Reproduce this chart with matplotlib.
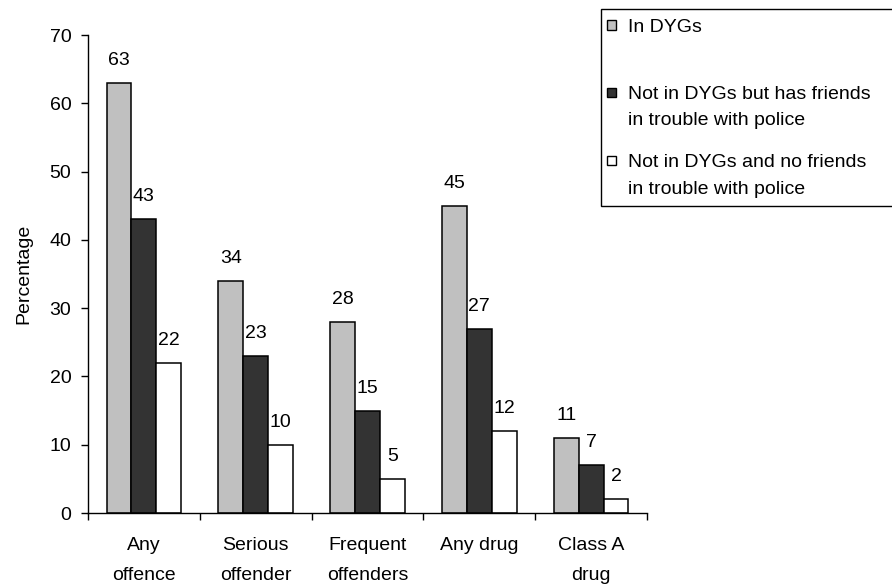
import numpy as np
import matplotlib.pyplot as plt
from matplotlib.patches import Rectangle

plt.rcParams['font.family'] = ['Liberation Sans', 'DejaVu Sans']
plt.rcParams['font.size'] = 14

categories = ['Any\noffence', 'Serious\noffender', 'Frequent\noffenders', 'Any drug', 'Class A\ndrug']
in_dygs = [63, 34, 28, 45, 11]
friends_in_trouble = [43, 23, 15, 27, 7]
no_friends = [22, 10, 5, 12, 2]

series_labels = ['In DYGs',
                 'Not in DYGs but has friends\nin trouble with police',
                 'Not in DYGs and no friends\nin trouble with police']
colors = ['#c0c0c0', '#333333', '#ffffff']

W, H = 892, 584
fig = plt.figure(figsize=(W / 100, H / 100), dpi=100)
ax = fig.add_axes([88 / W, 1 - 513 / H, (647 - 88) / W, (513 - 35) / H])

x = np.arange(len(categories))
w = 0.223
for i, (vals, c) in enumerate(zip([in_dygs, friends_in_trouble, no_friends], colors)):
    bars = ax.bar(x + (i - 1) * w, vals, w, color=c, edgecolor='black', linewidth=1.1)
    for b, v in zip(bars, vals):
        ax.annotate(str(v), (b.get_x() + b.get_width() / 2, v), xytext=(0, 13),
                    textcoords='offset points', ha='center', va='baseline')

ax.set_xlim(-0.5, 4.5)
ax.set_ylim(0, 70)
ax.set_yticks(range(0, 71, 10))
ax.set_xticks(x)
ax.set_xticklabels(categories, linespacing=2.0)
ax.set_xticks(np.arange(-0.5, 4.6, 1), minor=True)
ax.tick_params(axis='x', which='major', length=0, pad=17)
ax.tick_params(axis='x', which='minor', length=5, width=1, direction='out')
ax.tick_params(axis='y', length=5, width=1, pad=7)
for s in ['top', 'right']:
    ax.spines[s].set_visible(False)
for s in ['left', 'bottom']:
    ax.spines[s].set_linewidth(1)
ax.set_ylabel('Percentage')
ax.yaxis.set_label_coords(-0.1, 0.5)

# legend box drawn by hand, runs off the right edge
def fx(px):
    return px / W

def fy(py):
    return 1 - py / H

fig.patches.append(Rectangle((fx(601), fy(206)), fx(910) - fx(601), fy(9) - fy(206),
                             transform=fig.transFigure, facecolor='white',
                             edgecolor='black', linewidth=1, zorder=5))
entry_lines = [[25], [92, 118], [160, 187]]
for lab, c, ys in zip(series_labels, colors, entry_lines):
    fig.patches.append(Rectangle((fx(607), fy(ys[0] + 4.5)), fx(9), 9 / H,
                                 transform=fig.transFigure, facecolor=c,
                                 edgecolor='black', linewidth=1, zorder=6))
    for line, yc in zip(lab.split('\n'), ys):
        fig.text(fx(628), fy(yc + 7), line, ha='left', va='baseline', zorder=7)

fig.savefig('out.png', dpi=100)
